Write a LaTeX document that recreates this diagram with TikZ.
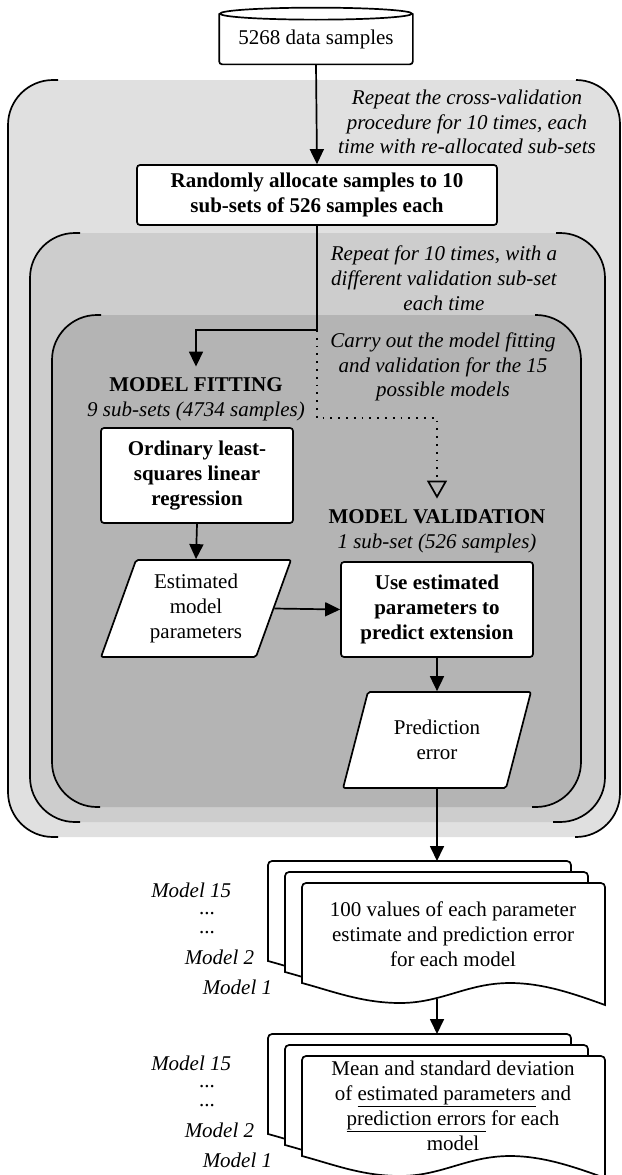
\documentclass[tikz,border=0pt]{standalone}
\usepackage{fontspec}
\setmainfont{Liberation Serif}
\usetikzlibrary{arrows.meta,shapes.geometric,positioning}

\definecolor{bandA}{RGB}{224,224,224}
\definecolor{bandB}{RGB}{205,205,205}
\definecolor{bandC}{RGB}{180,180,180}

\newcommand{\basefont}{\fontsize{21}{24.8}\selectfont}

\tikzset{
  procbox/.style={draw, fill=white, rounded corners=3pt, align=center, font=\basefont\bfseries, inner sep=2pt},
  databox/.style={trapezium, trapezium left angle=68.6, trapezium right angle=111.4, trapezium stretches=true,
    draw, fill=white, rounded corners=2pt, align=center, inner sep=0pt, font=\basefont},
  note/.style={align=center, font=\basefont\itshape},
  plain/.style={align=center, font=\basefont},
  modlbl/.style={anchor=east, inner sep=1pt, font=\basefont\itshape},
  arr/.style={-{Triangle[width=14pt,length=15pt]}},
  dots/.style={dash pattern=on 1.8pt off 6pt, -{Triangle[open,width=20pt,length=18pt]}}
}

\newcommand{\docsheet}[2]{%
  \filldraw[fill=white, shift={(#1,#2)}] (0,100) {[rounded corners=4pt] -- (0,0) -- (303,0)} -- (303,122)
    .. controls (270,110) and (240,100) .. (208,100)
    .. controls (165,100) and (140,120) .. (98,120)
    .. controls (60,120) and (30,108) .. cycle;
}
\newcommand{\docstack}[2]{\docsheet{#1}{#2}\docsheet{#1+17}{#2+11}\docsheet{#1+34}{#2+22}}

\begin{document}
\begin{tikzpicture}[x=1pt, y=-1pt, line width=1.7pt]
\useasboundingbox (0,0) rectangle (621,1175);

\fill[bandA, rounded corners=45pt] (8,80) rectangle (620,837);
\draw[rounded corners=45pt] (58,80) -- (8,80) -- (8,837) -- (58,837);
\draw[rounded corners=44pt] (576,80) -- (620,80) -- (620,837) -- (575,837);

\fill[bandB, rounded corners=45pt] (30,233) rectangle (605,822);
\draw[rounded corners=45pt] (80,233) -- (30,233) -- (30,822) -- (80,822);
\draw[rounded corners=45pt] (556,233) -- (605,233) -- (605,822) -- (553,822);

\fill[bandC, rounded corners=45pt] (52,315) rectangle (581,807);
\draw[rounded corners=45pt] (101,315) -- (52,315) -- (52,807) -- (100,807);
\draw[rounded corners=45pt] (535,315) -- (581,315) -- (581,807) -- (532,807);

\node[plain, minimum width=192pt, minimum height=49pt, inner sep=0pt] (data) at (316,39) {5268 data samples};
\draw[rounded corners=3pt] (data.north west) -- (data.south west) -- (data.south east) -- (data.north east);
\draw (data.north) ellipse (96pt and 6pt);

\node[note] (rep1) at (467,122) {Repeat the cross-validation\\procedure for 10 times, each\\time with re-allocated sub-sets};
\node[procbox, minimum width=360pt, minimum height=60pt] (alloc) at (317,195) {Randomly allocate samples to 10\\sub-sets of 526 samples each};
\node[note] (rep2) at (444,278) {Repeat for 10 times, with a\\different validation sub-set\\each time};
\node[note] (rep3) at (443,367) {Carry out the model fitting\\and validation for the 15\\possible models};

\node[align=center, inner sep=10pt, font=\basefont] (fitlbl) at (196,399) {\textbf{MODEL FITTING}\\\textit{9 sub-sets (4734 samples)}};
\node[procbox, minimum width=192pt, minimum height=95pt] (ols) at (197,475.5) {Ordinary least-\\squares linear\\regression};
\node[databox, minimum width=190pt, minimum height=97pt] (est) at (196,608.5) {Estimated\\model\\parameters};

\node[align=center, inner sep=10pt, font=\basefont] (vallbl) at (437,531) {\textbf{MODEL VALIDATION}\\\textit{1 sub-set (526 samples)}};
\node[procbox, minimum width=192pt, minimum height=95pt] (use) at (437,609.5) {Use estimated\\parameters to\\predict extension};
\node[databox, minimum width=188pt, minimum height=96pt] (err) at (437,740) {Prediction\\error};

\coordinate (split) at (317,330);
\coordinate (dotturn) at (437,418);
\coordinate (doc1top) at (437,861);
\coordinate (doc1bot) at (437,999);
\coordinate (doc2top) at (437,1034);

\draw[arr] (data.south) -- (alloc.north);
\draw[arr] (alloc.south) -- (split) -| (fitlbl.north);
\draw[dots] (split) |- (dotturn) -- (vallbl.north);
\draw[arr] (ols.south) -- (est.north);
\draw[arr] (est.east) -- (use.west);
\draw[arr] (use.south) -- (err.north);
\draw[arr] (err.south) -- (doc1top);
\draw[arr] (doc1bot) -- (doc2top);

\docstack{268}{861}
\docstack{268}{1034}

\node[plain] (vals) at (453,934) {100 values of each parameter\\estimate and prediction error\\for each model};
\node[plain] (stats) at (453,1106) {Mean and standard deviation\\of \underline{estimated parameters} and\\\underline{prediction errors} for each\\model};

\foreach \dy in {0,173} {
  \node[modlbl] (m15-\dy) at (233,890+\dy) {Model 15};
  \node[align=center, inner sep=0pt, font=\fontsize{21}{19}\selectfont] (ell-\dy) at (207,923+\dy) {...\\...};
  \node[modlbl] (m2-\dy) at (256,957+\dy) {Model 2};
  \node[modlbl] (m1-\dy) at (274,987+\dy) {Model 1};
}
\end{tikzpicture}
\end{document}
